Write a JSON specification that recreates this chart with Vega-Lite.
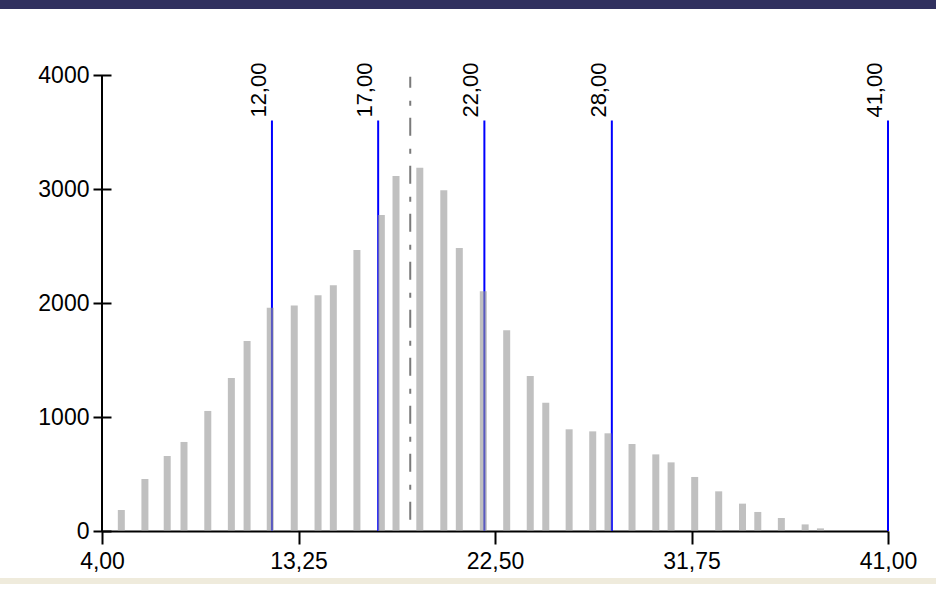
{
  "$schema": "https://vega.github.io/schema/vega-lite/v6.json",
  "width": 786,
  "height": 456,
  "autosize": {"type": "none"},
  "padding": {"left": 102, "top": 75, "right": 48, "bottom": 71},
  "background": "#ffffff",
  "config": {
    "view": {"stroke": null},
    "font": "Liberation Sans",
    "axis": {"labelFont": "Liberation Sans", "labelColor": "#000000", "grid": false, "title": null}
  },
  "datasets": {
    "bins": [
      {"value": 4.91, "count": 184},
      {"value": 6.02, "count": 456},
      {"value": 7.07, "count": 658},
      {"value": 7.86, "count": 781},
      {"value": 8.98, "count": 1053},
      {"value": 10.09, "count": 1342},
      {"value": 10.83, "count": 1667},
      {"value": 11.92, "count": 1959},
      {"value": 13.05, "count": 1977},
      {"value": 14.17, "count": 2067},
      {"value": 14.89, "count": 2155},
      {"value": 16.0, "count": 2465},
      {"value": 17.15, "count": 2772},
      {"value": 17.84, "count": 3114},
      {"value": 18.96, "count": 3187},
      {"value": 20.09, "count": 2988},
      {"value": 20.82, "count": 2482},
      {"value": 21.95, "count": 2102},
      {"value": 23.05, "count": 1760},
      {"value": 24.16, "count": 1360},
      {"value": 24.89, "count": 1125},
      {"value": 25.99, "count": 892},
      {"value": 27.10, "count": 874},
      {"value": 27.82, "count": 857},
      {"value": 28.95, "count": 763},
      {"value": 30.07, "count": 672},
      {"value": 30.79, "count": 602},
      {"value": 31.90, "count": 474},
      {"value": 33.03, "count": 348},
      {"value": 34.15, "count": 240},
      {"value": 34.87, "count": 167},
      {"value": 35.98, "count": 114},
      {"value": 37.10, "count": 58},
      {"value": 37.82, "count": 23}
    ],
    "limits": [
      {"limit": 12, "label": "12,00"},
      {"limit": 17, "label": "17,00"},
      {"limit": 22, "label": "22,00"},
      {"limit": 28, "label": "28,00"},
      {"limit": 41, "label": "41,00"}
    ],
    "center": [{"mean": 18.51}],
    "one": [{}]
  },
  "layer": [
    {
      "data": {"name": "one"},
      "mark": {"type": "rect", "color": "#31315f"},
      "encoding": {
        "x": {"datum": -0.81, "type": "quantitative", "scale": {"domain": [4, 41], "nice": false, "zero": false}, "axis": {"values": [4, 13.25, 22.5, 31.75, 41], "labelExpr": "replace(format(datum.value, '.2f'), '.', ',')", "labelFontSize": 23, "labelPadding": 6, "labelFlush": false, "tickSize": 13, "tickWidth": 2, "tickColor": "#000000", "domainColor": "#000000", "domainWidth": 2}},
        "x2": {"datum": 43.27},
        "y": {"datum": 4660, "type": "quantitative", "scale": {"domain": [0, 4000], "nice": false}, "axis": {"values": [0, 1000, 2000, 3000, 4000], "format": "d", "labelFontSize": 23, "labelPadding": 4, "offset": -9, "tickSize": 18, "tickWidth": 2, "tickColor": "#000000", "domain": false}},
        "y2": {"datum": 4579}
      }
    },
    {
      "data": {"name": "one"},
      "mark": {"type": "rect", "color": "#efebdc"},
      "encoding": {
        "x": {"datum": -0.81, "type": "quantitative"},
        "x2": {"datum": 43.27},
        "y": {"datum": -412, "type": "quantitative"},
        "y2": {"datum": -465}
      }
    },
    {
      "data": {"name": "limits"},
      "mark": {"type": "rule", "color": "#0000ff", "strokeWidth": 2},
      "encoding": {
        "x": {"field": "limit", "type": "quantitative"},
        "y": {"datum": 3600, "type": "quantitative"},
        "y2": {"datum": 0}
      }
    },
    {
      "data": {"name": "center"},
      "mark": {"type": "rule", "color": "#7a7a7a", "strokeWidth": 2, "strokeDash": [18, 13, 5, 12], "strokeDashOffset": 7},
      "encoding": {
        "x": {"field": "mean", "type": "quantitative"},
        "y": {"datum": 3985, "type": "quantitative"},
        "y2": {"datum": 0}
      }
    },
    {
      "data": {"name": "bins"},
      "mark": {"type": "rule", "color": "#969696", "opacity": 0.6, "strokeWidth": 7, "strokeCap": "butt"},
      "encoding": {
        "x": {"field": "value", "type": "quantitative"},
        "y": {"field": "count", "type": "quantitative"},
        "y2": {"datum": 0}
      }
    },
    {
      "data": {"name": "one"},
      "mark": {"type": "rule", "color": "#000000", "strokeWidth": 2},
      "encoding": {
        "x": {"datum": 4, "type": "quantitative"},
        "y": {"datum": 4000, "type": "quantitative"},
        "y2": {"datum": 0}
      }
    },
    {
      "data": {"name": "limits"},
      "mark": {"type": "text", "angle": 270, "align": "left", "baseline": "alphabetic", "dx": 3, "dy": -6, "fontSize": 22, "color": "#000000", "font": "Liberation Sans"},
      "encoding": {
        "x": {"field": "limit", "type": "quantitative"},
        "y": {"datum": 3600, "type": "quantitative"},
        "text": {"field": "label"}
      }
    }
  ]
}
